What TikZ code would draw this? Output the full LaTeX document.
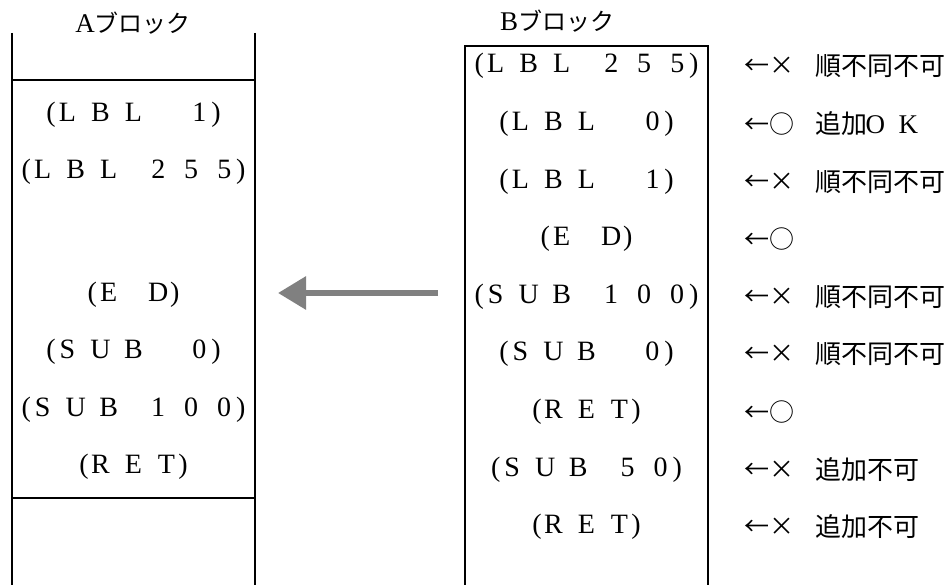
\documentclass[tikz,border=0pt]{standalone}
\usepackage{fontspec}
\setmainfont{Liberation Serif}
\newfontfamily\cjk{Noto Sans CJK JP}
\usetikzlibrary{arrows.meta}

% fixed pitch for the statement texts
\newlength\cellw
\setlength\cellw{16.5pt}
\makeatletter
\newcommand\cells[1]{\@tfor\cellch:=#1\do{\makebox[\cellw]{\cellch}}}
\makeatother

\tikzset{
    stmt/.style = {font = \fontsize{28}{28}\selectfont, inner sep = 0pt},
    heading/.style = {font = \fontsize{27}{27}\selectfont, inner sep = 0pt},
    verdict/.style = {font = \cjk\fontsize{25}{25}\selectfont, inner sep = 0pt, anchor = west},
    note/.style = {font = \cjk\fontsize{26}{26}\selectfont, inner sep = 0pt, anchor = west},
    wall/.style = {line width = 1.2pt},
    bigarrow/.style = {line width = 6pt, black!50, -{Triangle[length = 28pt, width = 32pt]}},
}

\begin{document}
\begin{tikzpicture}[x = 1pt, y = -1pt]
    \useasboundingbox (0, 0) rectangle (952, 585);

    % block A
    \draw[wall] (12, 33) -- (12, 585) (255, 33) -- (255, 585);
    \draw[wall] (12, 80) -- (255, 80) (12, 498) -- (255, 498);
    \node[heading] (atitle) at (133, 23) {A{\cjk\fontsize{24}{24}\selectfont ブロック}};

    \node[stmt] (a1) at (133.5, 115) {\cells{(L~B~L~~~1)}};
    \node[stmt] (a2) at (133.5, 172) {\cells{(L~B~L~~2~5~5)}};
    \node[stmt] (a3) at (133.5, 295) {\cells{(E~~D)}};
    \node[stmt] (a4) at (133.5, 352) {\cells{(S~U~B~~~0)}};
    \node[stmt] (a5) at (133.5, 410) {\cells{(S~U~B~~1~0~0)}};
    \node[stmt] (a6) at (133.5, 467) {\cells{(R~E~T)}};

    % block B
    \draw[wall] (465, 585) -- (465, 46) -- (708, 46) -- (708, 585);
    \node[heading] (btitle) at (557, 21) {B{\cjk\fontsize{24}{24}\selectfont ブロック}};

    \node[stmt] (b1) at (586.5, 66) {\cells{(L~B~L~~2~5~5)}};
    \node[stmt] (b2) at (586.5, 124) {\cells{(L~B~L~~~0)}};
    \node[stmt] (b3) at (586.5, 182) {\cells{(L~B~L~~~1)}};
    \node[stmt] (b4) at (586.5, 239) {\cells{(E~~D)}};
    \node[stmt] (b5) at (586.5, 297) {\cells{(S~U~B~~1~0~0)}};
    \node[stmt] (b6) at (586.5, 354) {\cells{(S~U~B~~~0)}};
    \node[stmt] (b7) at (586.5, 412) {\cells{(R~E~T)}};
    \node[stmt] (b8) at (586.5, 470) {\cells{(S~U~B~~5~0)}};
    \node[stmt] (b9) at (586.5, 527) {\cells{(R~E~T)}};

    % verdict for each line of B
    \node[verdict] (v1) at (744, 66) {←×};
    \node[verdict] (v2) at (744, 124) {←○};
    \node[verdict] (v3) at (744, 182) {←×};
    \node[verdict] (v4) at (744, 239) {←○};
    \node[verdict] (v5) at (744, 297) {←×};
    \node[verdict] (v6) at (744, 354) {←×};
    \node[verdict] (v7) at (744, 412) {←○};
    \node[verdict] (v8) at (744, 470) {←×};
    \node[verdict] (v9) at (744, 527) {←×};

    \node[note] (n1) at (815, 66) {順不同不可};
    \node[note] (n2) at (815, 124) {追加{\rmfamily\fontsize{27}{27}\selectfont\cells{O~K}}};
    \node[note] (n3) at (815, 182) {順不同不可};
    \node[note] (n5) at (815, 297) {順不同不可};
    \node[note] (n6) at (815, 354) {順不同不可};
    \node[note] (n8) at (815, 470) {追加不可};
    \node[note] (n9) at (815, 527) {追加不可};

    % B is merged into A
    \coordinate (tail) at (438, 293);
    \coordinate (tip) at (278, 293);
    \draw[bigarrow] (tail) -- (tip);
\end{tikzpicture}
\end{document}
